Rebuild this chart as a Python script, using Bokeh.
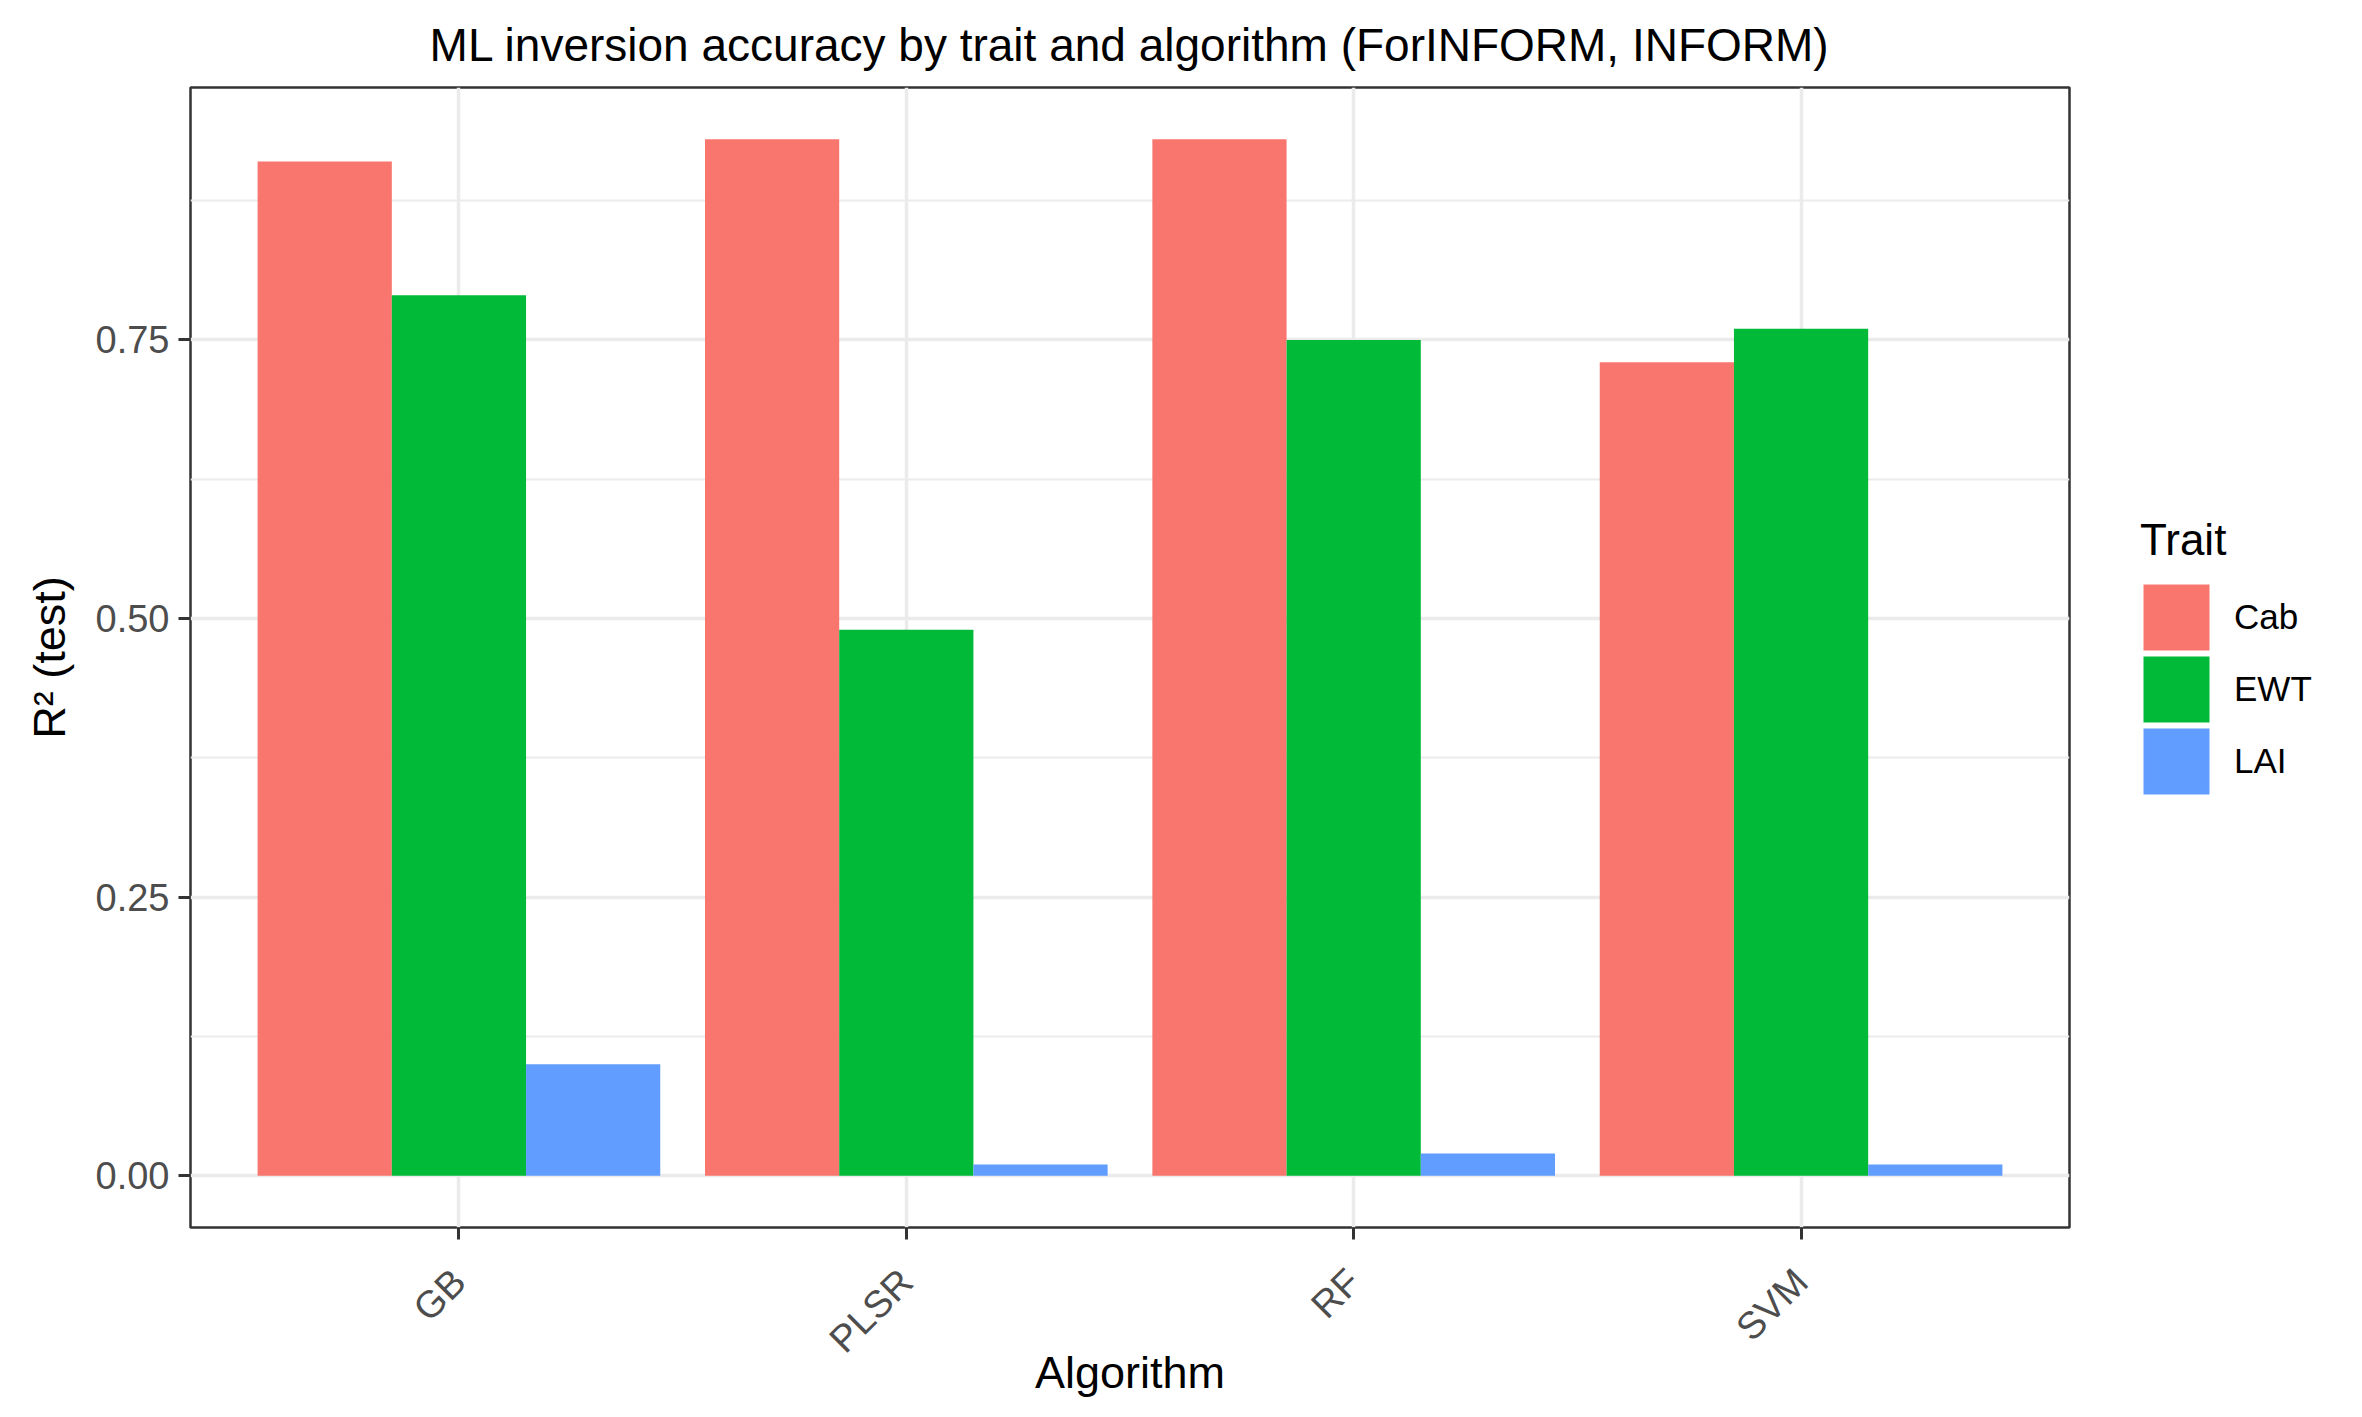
from bokeh.plotting import figure
from bokeh.models import (ColumnDataSource, FactorRange, Range1d, FixedTicker,
                          Legend, LegendItem)
from bokeh.layouts import row
from bokeh.transform import dodge
from bokeh.embed import file_html
from bokeh.resources import INLINE
import math

# ---- data ----
algorithms = ["GB", "PLSR", "RF", "SVM"]
traits = ["Cab", "EWT", "LAI"]
cab = [0.91, 0.93, 0.93, 0.73]
ewt = [0.79, 0.49, 0.75, 0.76]
lai = [0.10, 0.01, 0.02, 0.01]
colors = ["#F8766D", "#00BA38", "#619CFF"]
y_ticks = [0.0, 0.25, 0.50, 0.75]
y_tick_labels = ["0.00", "0.25", "0.50", "0.75"]
y_minor = [0.125, 0.375, 0.625, 0.875]

title_text = "ML inversion accuracy by trait and algorithm (ForINFORM, INFORM)"
x_title = "Algorithm"
y_title = "R\u00b2 (test)"
legend_title = "Trait"

FONT = "Liberation Sans"
TOTAL_W, TOTAL_H = 2346, 1401
MAIN_W = 2089

source = ColumnDataSource(data=dict(algo=algorithms, Cab=cab, EWT=ewt, LAI=lai))

ymax = max(cab + ewt + lai)
pad = 0.05 * ymax
offsets = [-0.3, 0.0, 0.3]

p = figure(width=MAIN_W, height=TOTAL_H,
           x_range=FactorRange(factors=algorithms, range_padding=0.05,
                               range_padding_units="percent"),
           y_range=Range1d(-pad, ymax + pad),
           output_backend="svg", toolbar_location=None,
           min_border_left=190, min_border_right=20,
           min_border_top=87, min_border_bottom=173)

p.background_fill_color = "white"
p.border_fill_color = "white"
p.outline_line_color = "#333333"
p.outline_line_width = 2.5

# title
p.title.text = title_text
p.title.align = "center"
p.title.text_font = FONT
p.title.text_font_size = "46px"
p.title.text_font_style = "normal"
p.title.text_color = "black"
p.title.standoff = 33

for t, c, off in zip(traits, colors, offsets):
    p.vbar(x=dodge("algo", off, range=p.x_range), top=t, bottom=0,
           width=0.3, source=source, fill_color=c, line_color=None)

# axes
p.yaxis.ticker = FixedTicker(ticks=y_ticks, minor_ticks=y_minor)
p.yaxis.major_label_overrides = {v: s for v, s in zip(y_ticks, y_tick_labels)}
for ax in (p.xaxis[0], p.yaxis[0]):
    ax.axis_line_color = None
    ax.major_tick_line_color = "#333333"
    ax.major_tick_line_width = 3
    ax.major_tick_in = 0
    ax.major_tick_out = 12
    ax.minor_tick_line_color = None
    ax.major_label_text_font = FONT
    ax.major_label_text_font_size = "38px"
    ax.major_label_text_color = "#4D4D4D"
    ax.major_label_standoff = 9
    ax.axis_label_text_font = FONT
    ax.axis_label_text_font_size = "45px"
    ax.axis_label_text_font_style = "normal"
    ax.axis_label_text_color = "black"

p.xaxis.axis_label = x_title
p.yaxis.axis_label = y_title
p.xaxis.major_label_orientation = math.pi / 4
p.xaxis.major_label_standoff = 36
p.xaxis.axis_label_standoff = -31
p.yaxis.axis_label_standoff = 18

# grid
p.xgrid.grid_line_color = "#EBEBEB"
p.xgrid.grid_line_width = 3.5
p.ygrid.grid_line_color = "#EBEBEB"
p.ygrid.grid_line_width = 3.5
p.ygrid.minor_grid_line_color = "#EBEBEB"
p.ygrid.minor_grid_line_width = 1.8

# ---- legend, drawn in a narrow companion figure to the right ----
lg = figure(width=TOTAL_W - MAIN_W, height=TOTAL_H, output_backend="svg",
            toolbar_location=None, x_axis_location=None, y_axis_location=None,
            x_range=FactorRange(factors=algorithms),
            min_border=0, outline_line_color=None)
lg.grid.visible = False
lg.background_fill_color = "white"
lg.border_fill_color = "white"

key_renderers = []
for t, c, off in zip(traits, colors, offsets):
    kr = lg.vbar(x=dodge("algo", off, range=lg.x_range), top=t, bottom=0,
                 width=0.3, source=source, fill_color=c,
                 line_color=c, line_width=8.4, line_join="miter")
    kr.visible = False
    key_renderers.append(kr)

items = [LegendItem(label=t, renderers=[r]) for t, r in zip(traits, key_renderers)]
legend = Legend(items=items, location=(51, 430), title=legend_title,
                orientation="vertical")
legend.title_text_font = FONT
legend.title_text_font_size = "44px"
legend.title_text_font_style = "normal"
legend.title_text_color = "black"
legend.title_standoff = 16
legend.label_text_font = FONT
legend.label_text_font_size = "35px"
legend.label_text_color = "black"
legend.label_text_baseline = "middle"
legend.glyph_width = 72
legend.glyph_height = 72
legend.label_height = 72
legend.spacing = 0
legend.label_standoff = 22
legend.padding = 0
legend.margin = 0
legend.border_line_color = None
legend.background_fill_alpha = 0
lg.add_layout(legend, "center")

layout = row(p, lg)
open("out.html", "w").write(file_html(layout, INLINE))
